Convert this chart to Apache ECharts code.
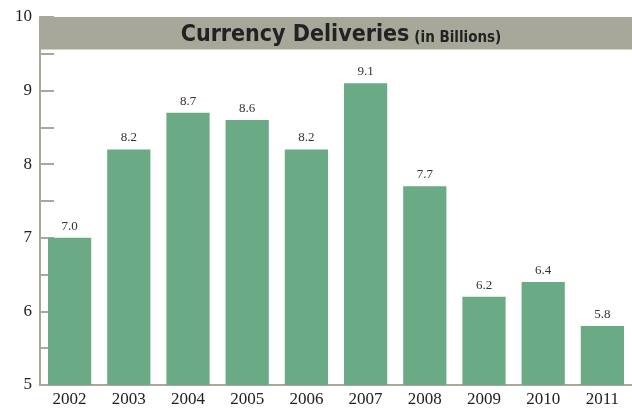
<!DOCTYPE html>
<html><head><meta charset="utf-8">
<script src="https://cdn.jsdelivr.net/npm/echarts@6/dist/echarts.min.js"></script>
<style>html,body{margin:0;padding:0;background:#fff}#c{width:632px;height:409px}</style>
</head><body><div id="c"></div>
<script>
const categories = ['2002','2003','2004','2005','2006','2007','2008','2009','2010','2011'];
const deliveries = [7.0, 8.2, 8.7, 8.6, 8.2, 9.1, 7.7, 6.2, 6.4, 5.8];
const yTicks = [5, 6, 7, 8, 9, 10];

const chart = echarts.init(document.getElementById('c'));
const axisGray = '#a8a999';
const serif = '"Liberation Serif", "DejaVu Serif", serif';
chart.setOption({
  animation: false,
  grid: {left: 40, right: 0, top: 17, bottom: 24, containLabel: false},
  title: {
    text: '{a|Currency Deliveries} {b|(in Billions)}',
    left: 336, top: 19, textAlign: 'center',
    textStyle: {
      rich: {
        a: {fontFamily: '"Liberation Sans Narrow", "DejaVu Sans Condensed", "Roboto Condensed", sans-serif', fontWeight: 'bold', fontSize: 23, color: '#222'},
        b: {fontFamily: '"Liberation Sans Narrow", "DejaVu Sans Condensed", sans-serif', fontWeight: 'bold', fontSize: 15, color: '#222', padding: [5, 0, 0, 0]}
      }
    }
  },
  xAxis: {
    type: 'category', data: categories,
    axisLine: {lineStyle: {color: axisGray, width: 2}},
    axisTick: {inside: true, length: 7, lineStyle: {color: axisGray, width: 2}},
    axisLabel: {color: '#222', fontFamily: serif, fontSize: 17, margin: 6}
  },
  yAxis: {
    type: 'value', min: yTicks[0], max: yTicks[yTicks.length - 1], interval: 1,
    axisLine: {show: true, lineStyle: {color: axisGray, width: 2}},
    axisTick: {show: true, inside: true, length: 14, lineStyle: {color: axisGray, width: 2}},
    minorTick: {show: true, splitNumber: 2, length: 14, lineStyle: {color: axisGray, width: 2}},
    splitLine: {show: false},
    axisLabel: {color: '#222', fontFamily: serif, fontSize: 17, margin: 8}
  },
  series: [{
    type: 'bar', data: deliveries, barWidth: '73%',
    itemStyle: {color: '#6aaa84'},
    label: {show: true, position: 'top', distance: 5, color: '#333', fontFamily: serif, fontSize: 13,
      formatter: p => p.value.toFixed(1)},
    markArea: {
      silent: true,
      itemStyle: {color: '#a7a899'},
      data: [[{yAxis: 9.56}, {yAxis: 10}]]
    }
  }]
});
</script></body></html>
